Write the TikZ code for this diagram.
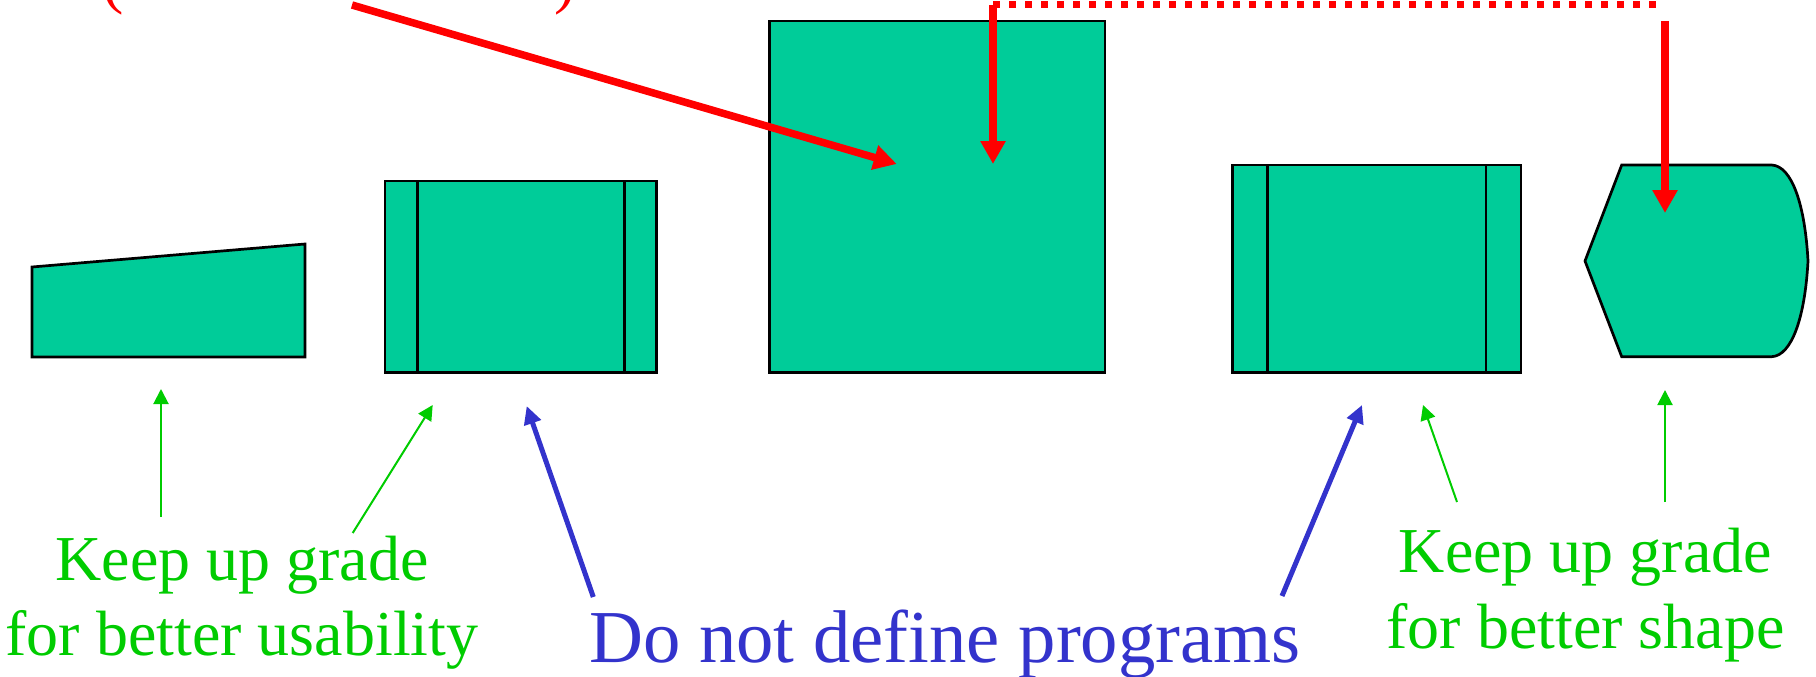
\documentclass[tikz,border=0pt]{standalone}
\usepackage{fontspec}
\setmainfont{Liberation Serif}
\usetikzlibrary{arrows.meta}
\definecolor{boxgreen}{RGB}{0,204,153}
\definecolor{notegreen}{RGB}{0,204,0}
\definecolor{noteblue}{RGB}{51,51,204}

\begin{document}
\begin{tikzpicture}[x=1pt, y=-1pt,
    shapebox/.style={draw, fill=boxgreen, line width=2.7pt},
    procbox/.style={shapebox, rectangle, inner sep=0pt, outer sep=0pt},
    redarrow/.style={-{Triangle[length=23pt, width=24pt]}, red, line width=7.5pt},
    greenarrow/.style={-{Triangle[length=15pt, width=15pt]}, notegreen, line width=2pt},
    bluearrow/.style={-{Triangle[length=18pt, width=17pt]}, noteblue, line width=5pt},
    greennote/.style={text=notegreen, font=\fontsize{64}{75}\selectfont, anchor=base, inner sep=0pt},
    bluenote/.style={text=noteblue, font=\fontsize{74.7}{88}\selectfont, anchor=base, inner sep=0pt}]
    \useasboundingbox (0,0) rectangle (1816,677);
    \clip (0,0) rectangle (1816,677);

    % shapes
    \draw[shapebox] (32,267) -- (305,244) -- (305,357) -- (32,357) -- cycle;
    \node[procbox, minimum width=271.7pt, minimum height=191.7pt] (proc1) at (520.8,276.9) {};
    \draw[line width=2.7pt] ([xshift=32.7pt]proc1.north west) -- ([xshift=32.7pt]proc1.south west);
    \draw[line width=2.7pt] ([xshift=-32.4pt]proc1.north east) -- ([xshift=-32.4pt]proc1.south east);
    \node[procbox, minimum width=335.7pt, minimum height=351.7pt] (square) at (937.2,196.9) {};
    \node[procbox, minimum width=288.3pt, minimum height=207.7pt] (proc2) at (1376.9,268.9) {};
    \draw[line width=2.7pt] ([xshift=35pt]proc2.north west) -- ([xshift=35pt]proc2.south west);
    \draw[line width=2.7pt] ([xshift=-35pt]proc2.north east) -- ([xshift=-35pt]proc2.south east);
    \draw[shapebox] (1585,261) -- (1621.7,165) -- (1771.7,165)
        .. controls (1792,166) and (1805,205) .. (1808,261)
        .. controls (1805,316.7) and (1792,355.7) .. (1771.7,356.7)
        -- (1621.7,356.7) -- cycle;

    % texts
    \node[text=red, font=\fontsize{64}{75}\selectfont, anchor=base west, inner sep=0pt] (paren) at (102,2) {(\hspace{431pt})};
    \node[greennote] (usab1) at (242,580) {Keep up grade};
    \node[greennote] (usab2) at (242,655.6) {for better usability};
    \node[bluenote] (prog) at (945,662.7) {Do not define programs};
    \node[greennote] (shape1) at (1585.5,572.7) {Keep up grade};
    \node[greennote] (shape2) at (1585.5,648.3) {for better shape};

    % red arrows
    \coordinate (diagA) at (352,5);
    \coordinate (diagB) at (896.7,164);
    \coordinate (topA) at (993,5);
    \coordinate (topB) at (1657,5);
    \coordinate (downA) at (993,164);
    \coordinate (dispA) at (1665,21);
    \coordinate (dispB) at (1665,213);
    \draw[redarrow] (diagA) -- (diagB);
    \draw[red, line width=7pt, dash pattern=on 7pt off 9pt] (topA) -- (topB);
    \draw[redarrow] (topA) -- (downA);
    \draw[redarrow] (dispA) -- (dispB);

    % green and blue arrows
    \coordinate (g1a) at (161,517);
    \coordinate (g1b) at (161,389);
    \coordinate (g2a) at (352.7,533);
    \coordinate (g2b) at (432.7,405);
    \coordinate (g3a) at (1457,502);
    \coordinate (g3b) at (1423,405);
    \coordinate (g4a) at (1665,502);
    \coordinate (g4b) at (1665,390);
    \draw[greenarrow] (g1a) -- (g1b);
    \draw[greenarrow] (g2a) -- (g2b);
    \draw[greenarrow] (g3a) -- (g3b);
    \draw[greenarrow] (g4a) -- (g4b);
    \coordinate (b1a) at (593.3,597);
    \coordinate (b1b) at (526.7,406);
    \coordinate (b2a) at (1282,596);
    \coordinate (b2b) at (1362,405);
    \draw[bluearrow] (b1a) -- (b1b);
    \draw[bluearrow] (b2a) -- (b2b);
\end{tikzpicture}
\end{document}
